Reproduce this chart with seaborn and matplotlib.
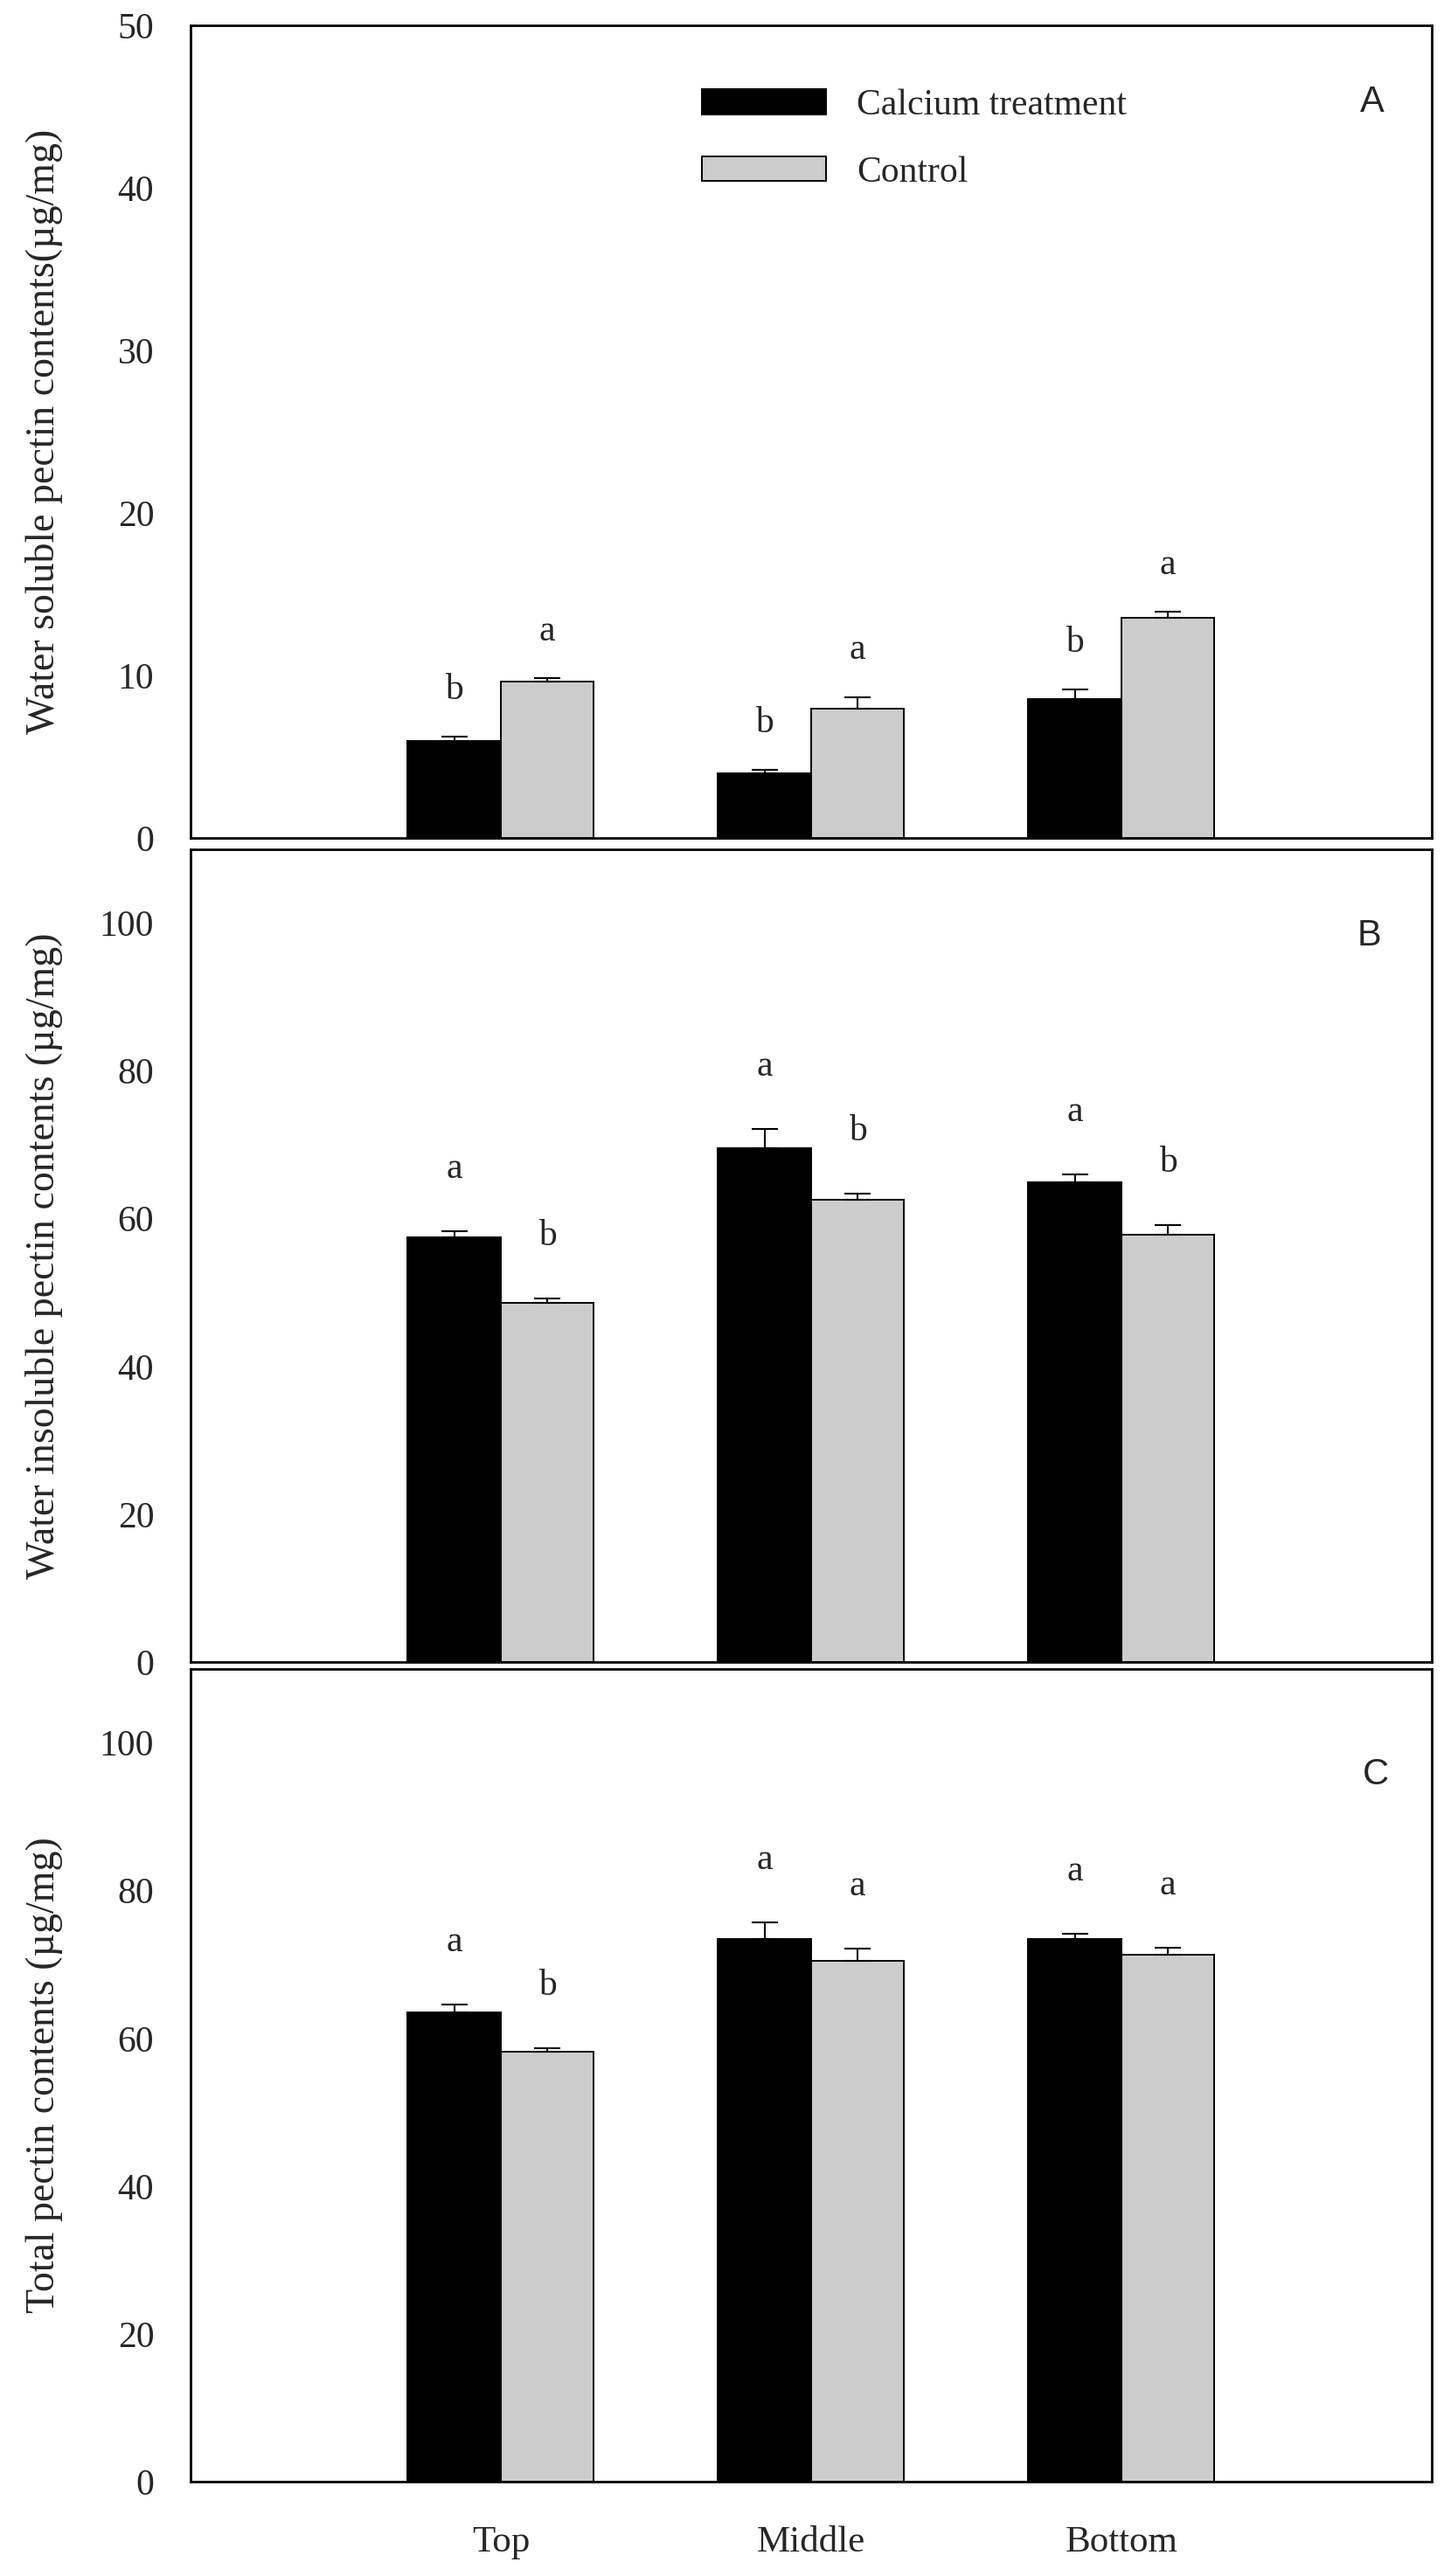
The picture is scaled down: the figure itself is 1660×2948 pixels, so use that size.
import numpy as np
import pandas as pd
import matplotlib
matplotlib.use('Agg')
import matplotlib.pyplot as plt
import seaborn as sns

positions = ['Top', 'Middle', 'Bottom']
treatments = ['Calcium treatment', 'Control']

# A: water soluble pectin
ws_calcium = [5.97, 3.97, 8.54]
ws_control = [9.63, 7.93, 13.56]
ws_calcium_err = [0.27, 0.24, 0.61]
ws_control_err = [0.20, 0.75, 0.34]
ws_calcium_sig = ['b', 'b', 'b']
ws_control_sig = ['a', 'a', 'a']

# B: water insoluble pectin
wi_calcium = [57.5, 69.5, 64.9]
wi_control = [48.6, 62.6, 57.8]
wi_calcium_err = [0.8, 2.6, 1.1]
wi_control_err = [0.6, 0.8, 1.3]
wi_calcium_sig = ['a', 'a', 'a']
wi_control_sig = ['b', 'b', 'b']

# C: total pectin
tp_calcium = [63.5, 73.4, 73.4]
tp_control = [58.2, 70.5, 71.3]
tp_calcium_err = [1.1, 2.3, 0.8]
tp_control_err = [0.5, 1.6, 1.0]
tp_calcium_sig = ['a', 'a', 'a']
tp_control_sig = ['b', 'a', 'a']

sns.set_theme(style='white')
plt.rcParams['font.family'] = ['Liberation Serif', 'DejaVu Serif']

colors = {'Calcium treatment': 'black', 'Control': '#cccccc'}


def draw_panel(ax, calcium, control, cal_err, ctl_err, cal_sig, ctl_sig,
               ylim, yticks, ylabel, letter, letter_xy, sig_pad,
               show_x=False, legend=False):
    df = pd.DataFrame({
        'position': positions * 2,
        'treatment': [treatments[0]] * 3 + [treatments[1]] * 3,
        'value': calcium + control,
    })
    sns.barplot(data=df, x='position', y='value', hue='treatment',
                order=positions, hue_order=treatments, palette=colors,
                saturation=1, width=0.6, errorbar=None, edgecolor='black',
                linewidth=1.4, legend=legend, ax=ax)

    # one-sided error bars + significance letters on top of each bar
    for container, errs, sigs in zip(ax.containers, [cal_err, ctl_err], [cal_sig, ctl_sig]):
        bars = sorted(container, key=lambda b: b.get_x())
        xs = [b.get_x() + b.get_width() / 2 for b in bars]
        hs = [b.get_height() for b in bars]
        ax.errorbar(xs, hs, yerr=[np.zeros(len(errs)), errs], fmt='none',
                    ecolor='black', elinewidth=1.5, capsize=11, capthick=1.5)
        for x, h, e, s in zip(xs, hs, errs, sigs):
            ax.annotate(s, (x, h + e), xytext=(0, sig_pad), textcoords='offset points',
                        ha='center', va='baseline', fontsize=30)

    ax.set_xlim(-1, 3)
    ax.set_ylim(*ylim)
    ax.set_yticks(yticks)
    ax.set_ylabel(ylabel, fontsize=33)
    ax.yaxis.set_label_coords(-0.103, 0.5)
    ax.set_xlabel('')
    ax.tick_params(axis='y', direction='in', length=10, width=1.5, pad=30, labelsize=30)
    ax.tick_params(axis='x', length=0, pad=36, labelsize=31)
    if not show_x:
        ax.set_xticklabels([])
    for sp in ax.spines.values():
        sp.set_linewidth(2)
        sp.set_color('black')

    ax.text(letter_xy[0], letter_xy[1], letter, transform=ax.transAxes,
            ha='center', va='center', fontsize=30, family=['Liberation Sans', 'DejaVu Sans'])

    if legend:
        handles, labels = ax.get_legend_handles_labels()
        for h in handles:
            h.set_edgecolor('black')
            h.set_linewidth(1.4)
        ax.legend(handles, labels, loc='upper left', bbox_to_anchor=(0.412, 0.922),
                  frameon=False, fontsize=30, handlelength=3.4, handleheight=0.68,
                  handletextpad=0.85, labelspacing=0.92, borderaxespad=0, borderpad=0)


fig = plt.figure(figsize=(16.6, 29.48), dpi=100)
left, width, height = 0.1313, 0.8554, 0.3155
ax_a = fig.add_axes([left, 0.6747, width, height])
ax_b = fig.add_axes([left, 0.3548, width, height])
ax_c = fig.add_axes([left, 0.0366, width, height])

draw_panel(ax_a, ws_calcium, ws_control, ws_calcium_err, ws_control_err,
           ws_calcium_sig, ws_control_sig, (0, 50), [0, 10, 20, 30, 40, 50],
           'Water soluble pectin contents(µg/mg)', 'A', (0.952, 0.905), 31,
           legend=True)
draw_panel(ax_b, wi_calcium, wi_control, wi_calcium_err, wi_control_err,
           wi_calcium_sig, wi_control_sig, (0, 110), [0, 20, 40, 60, 80, 100],
           'Water insoluble pectin contents (µg/mg)', 'B', (0.950, 0.894), 44)
draw_panel(ax_c, tp_calcium, tp_control, tp_calcium_err, tp_control_err,
           tp_calcium_sig, tp_control_sig, (0, 110), [0, 20, 40, 60, 80, 100],
           'Total pectin contents (µg/mg)', 'C', (0.955, 0.870), 44, show_x=True)

fig.savefig('out.png', dpi=100)
